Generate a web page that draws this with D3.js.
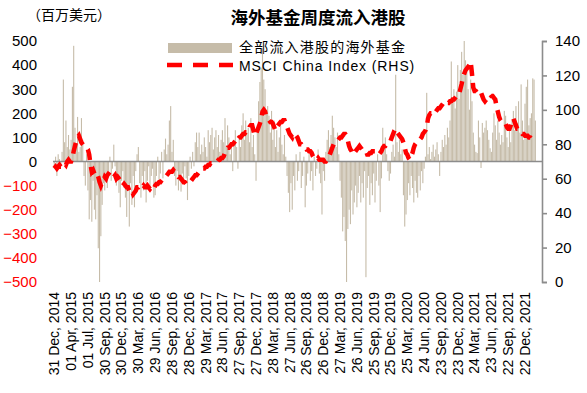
<!DOCTYPE html>
<html>
<head>
<meta charset="utf-8">
<script src="https://cdn.jsdelivr.net/npm/d3@7"></script>
<style>
  body{margin:0;background:#fff;}
  svg{display:block;}
</style>
</head>
<body>
<svg id="chart" width="587" height="393"></svg>
<script>
// 周度数据：海外基金流入港股(百万美元)，每周一个值，自 2014-12-31 起
const flows = [
  -30, 20, -60, 30, 10, -20, 40, 340, 80, 170, 60, 110, 50,
  90, 310, 480, 140, 70, 185, 40, 60, 180, 90, -60, -100, 30,
  -120, -240, -160, -250, -80, -200, -240, -140, -360, -500, -310, -180, -90,
  -120, -60, -110, -40, 20, -80, -30, 70, -20, -100, -60, -130, -190,
  -80, -40, -110, -150, -230, -120, -270, -90, -180, -60, -190, -40, 30,
  60, -90, -150, -60, -120, -40, -170, -80, -20, -110, -60, -30, -150,
  -140, -60, 20, -90, -50, 40, -70, 50, 95, 30, 70, 170, 230,
  40, 90, -60, -100, -40, -120, -80, -125, -50, -90, -20, -70, -160,
  -60, 20, -30, 40, -20, 80, 120, 60, 120, 30, 70, 40, 100,
  60, 20, 130, 80, 110, 140, 50, 100, 130, 60, 110, 40, 90,
  130, 80, 180, 60, 150, 100, 30, 70, -40, 90, 130, 60, -30,
  110, 60, 150, 200, 90, 170, 120, 140, 80, 180, 60, 110, 30,
  -80, 140, 250, 330, 390, 470, 340, 300, 200, 230, 190, 120, 210,
  90, 170, 60, 130, 40, 100, 150, 70, 30, 110, 20, -60, -130,
  -210, -90, -200, -60, -120, 30, -80, -40, 40, -110, -60, 20, -190,
  -100, -50, 30, -80, -40, -120, 20, -60, -30, 50, -50, -90, -220,
  -40, -80, 40, 90, 130, 60, 110, 190, 140, 100, 60, 120, 30,
  -80, -150, -290, -230, -330, -500, -280, -200, -260, -120, -220, -170, -100,
  -190, -130, -60, -170, -90, -150, -40, -480, -110, -60, -180, -90, -140,
  -50, -170, -80, 30, -100, -210, -70, 140, 60, 100, 30, -40, -80,
  -50, 40, 70, 20, 360, 80, 40, 90, 30, 50, -140, -270, -220,
  -160, -90, -140, -60, -110, -170, -80, -130, -150, -60, -120, -40, -90,
  -30, 20, 285, 30, 60, 10, 40, 70, 20, 50, 80, 30, -60,
  40, 90, 60, 110, 70, 140, 100, 170, 415, 240, 300, 220, 290,
  400, 260, 380, 455, 360, 500, 420, 390, 300, 215, 340, 250, 120,
  70, 40, 35, 170, 100, -27, 160, 120, 140, 170, 130, 90, 55,
  40, 120, 200, 150, 90, 170, 120, 70, 110, 80, 210, 190, 100,
  60, 150, 80, 170, 210, 130, 230, 160, 250, 120, 320, 170, 90,
  240, 310, 340, 150, 180, 200, 345, 340, 170
];

// MSCI China Index (右轴)
const msci = [
  66, 67, 66, 67, 68, 67, 67, 68, 69, 68, 70, 71, 70,
  70, 72, 76, 79, 82, 84, 85, 83, 81, 80, 79, 78, 78,
  77, 74, 68, 64, 65, 63, 62, 63, 61, 58, 56, 58, 59,
  61, 60, 62, 63, 64, 63, 62, 61, 62, 60, 61, 60, 59,
  57, 56, 57, 56, 55, 55, 53, 54, 53, 51, 52, 53, 55,
  55, 56, 56, 55, 56, 55, 55, 56, 55, 54, 55, 55, 54,
  56, 57, 57, 58, 58, 59, 60, 61, 61, 62, 63, 64, 64,
  64, 65, 64, 63, 62, 61, 61, 60, 59, 58, 58, 57, 57,
  57, 58, 59, 60, 61, 62, 62, 63, 64, 64, 65, 66, 66,
  67, 67, 68, 68, 69, 69, 69, 70, 70, 70, 71, 71, 72,
  72, 73, 75, 77, 78, 78, 79, 80, 80, 81, 82, 81, 83,
  84, 84, 85, 86, 86, 87, 87, 87, 90, 91, 91, 88, 85,
  86, 88, 90, 92, 95, 99, 100, 99, 96, 95, 94, 93, 93,
  92, 90, 88, 90, 91, 92, 93, 93, 94, 94, 92, 90, 88,
  86, 85, 84, 86, 86, 85, 84, 82, 80, 80, 79, 78, 78,
  77, 77, 76, 76, 75, 73, 72, 71, 71, 72, 71, 71, 71,
  71, 70, 70, 71, 72, 74, 76, 78, 80, 81, 82, 82, 83,
  84, 84, 85, 86, 86, 85, 82, 79, 77, 76, 74, 75, 76,
  77, 78, 79, 78, 77, 76, 76, 76, 74, 74, 75, 75, 76,
  76, 76, 75, 74, 74, 75, 76, 78, 79, 79, 80, 80, 81,
  82, 84, 86, 88, 89, 87, 86, 85, 84, 83, 81, 78, 75,
  74, 72, 71, 73, 75, 78, 80, 81, 82, 83, 83, 84, 86,
  87, 88, 90, 95, 97, 98, 98, 99, 100, 99, 100, 101, 101,
  102, 103, 104, 104, 103, 104, 104, 105, 105, 106, 106, 107, 108,
  108, 109, 112, 115, 119, 121, 123, 124, 125, 126, 128, 121, 113,
  111, 111, 110, 110, 109, 110, 108, 106, 105, 106, 107, 108, 109,
  108, 108, 107, 106, 102, 99, 96, 94, 93, 93, 92, 92, 90,
  89, 89, 91, 94, 95, 93, 91, 89, 89, 88, 87, 86, 86,
  85, 85, 85, 84, 84, 83, 82, 82, 81
];

// x 轴标签，每 13 周一个
const tickLabels = [
  "31 Dec, 2014","01 Apr, 2015","01 Jul, 2015","30 Sep, 2015","30 Dec, 2015",
  "30 Mar, 2016","29 Jun, 2016","28 Sep, 2016","28 Dec, 2016","29 Mar, 2017",
  "28 Jun, 2017","27 Sep, 2017","27 Dec, 2017","28 Mar, 2018","27 Jun, 2018",
  "26 Sep, 2018","26 Dec, 2018","27 Mar, 2019","26 Jun, 2019","25 Sep, 2019",
  "25 Dec, 2019","25 Mar, 2020","24 Jun, 2020","23 Sep, 2020","23 Dec, 2020",
  "24 Mar, 2021","23 Jun, 2021","22 Sep, 2021","22 Dec, 2021"
];
const tickStep = 13;
const leftTicks = [-500,-400,-300,-200,-100,0,100,200,300,400,500];
const rightTicks = [0,20,40,60,80,100,120,140];
const seriesNames = ["全部流入港股的海外基金","MSCI China Index (RHS)"];

const svg = d3.select("#chart");
const barColor = "#c6bca9";
const latin = "'Liberation Sans', Arial, sans-serif";
const cjk = "'Noto Sans CJK SC', sans-serif";

const plotL = 53, plotR = 542, plotTop = 41, plotBottom = 282;
const x = d3.scaleLinear().domain([0, 364]).range([54.3, 525]);
const yL = d3.scaleLinear().domain([-500, 500]).range([plotBottom, plotTop]);
const yR = d3.scaleLinear().domain([0, 140]).range([plotBottom, plotTop]);

// 柱子
svg.append("g")
  .selectAll("rect")
  .data(flows)
  .join("rect")
  .attr("x", (d,i)=>x(i)-0.55)
  .attr("width", 1.1)
  .attr("y", d=>yL(Math.max(0,d)))
  .attr("height", d=>Math.abs(yL(d)-yL(0)))
  .attr("fill", barColor);

// 零线
svg.append("line")
  .attr("x1", plotL).attr("x2", plotR)
  .attr("y1", yL(0)).attr("y2", yL(0))
  .attr("stroke", "#8c8c8c").attr("stroke-width", 1.6);

// 左轴(只有标签)
const gL = svg.append("g")
  .attr("transform", "translate(37,0)")
  .call(d3.axisLeft(yL).tickValues(leftTicks).tickSize(0).tickPadding(0).tickFormat(d3.format("d")));
gL.select(".domain").remove();
gL.selectAll("text")
  .attr("font-family", latin).attr("font-size", 15)
  .attr("fill", d=>d<0 ? "#ff0000" : "#000");

// 右轴
const gR = svg.append("g")
  .attr("transform", `translate(${plotR},0)`)
  .call(d3.axisRight(yR).tickValues(rightTicks).tickSize(5).tickSizeOuter(5).tickPadding(8));
gR.select(".domain").attr("stroke", "#8c8c8c").attr("stroke-width", 1.6);
gR.selectAll(".tick line").attr("stroke", "#8c8c8c").attr("stroke-width", 1.6);
gR.selectAll("text").attr("font-family", latin).attr("font-size", 15).attr("fill", "#000");

// x 轴标签
svg.append("g")
  .selectAll("text")
  .data(tickLabels)
  .join("text")
  .attr("transform", (d,i)=>`translate(${x(i*tickStep)},292) rotate(-90)`)
  .attr("text-anchor", "end")
  .attr("dy", "0.35em")
  .attr("font-family", latin).attr("font-size", 14)
  .attr("fill", "#000")
  .text(d=>d);

// 指数线
const line = d3.line()
  .x((d,i)=>x(i))
  .y(d=>yR(d));
svg.append("path")
  .datum(msci)
  .attr("d", line)
  .attr("fill", "none")
  .attr("stroke", "#ff0000")
  .attr("stroke-width", 4.5)
  .attr("stroke-dasharray", "11,7");

// 标题
svg.append("text")
  .attr("x", 318).attr("y", 24)
  .attr("text-anchor", "middle")
  .attr("font-family", cjk).attr("font-size", 17.5).attr("font-weight", "bold")
  .text("海外基金周度流入港股");

svg.append("text")
  .attr("x", 27).attr("y", 20)
  .attr("font-family", cjk).attr("font-size", 14)
  .text("（百万美元）");

// 图例
const lg = svg.append("g");
lg.append("rect")
  .attr("x", 168).attr("y", 43).attr("width", 64).attr("height", 10)
  .attr("fill", barColor);
lg.append("line")
  .attr("x1", 167).attr("x2", 233).attr("y1", 65).attr("y2", 65)
  .attr("stroke", "#ff0000").attr("stroke-width", 4.5)
  .attr("stroke-dasharray", "15,11");
lg.append("text")
  .attr("x", 239).attr("y", 52)
  .attr("font-family", cjk).attr("font-size", 14)
  .attr("letter-spacing", 1.2)
  .attr("fill", "#000")
  .text(seriesNames[0]);
lg.append("text")
  .attr("x", 239).attr("y", 71)
  .attr("font-family", latin).attr("font-size", 14)
  .attr("letter-spacing", 0.9)
  .attr("fill", "#000")
  .text(seriesNames[1]);
</script>
</body>
</html>
